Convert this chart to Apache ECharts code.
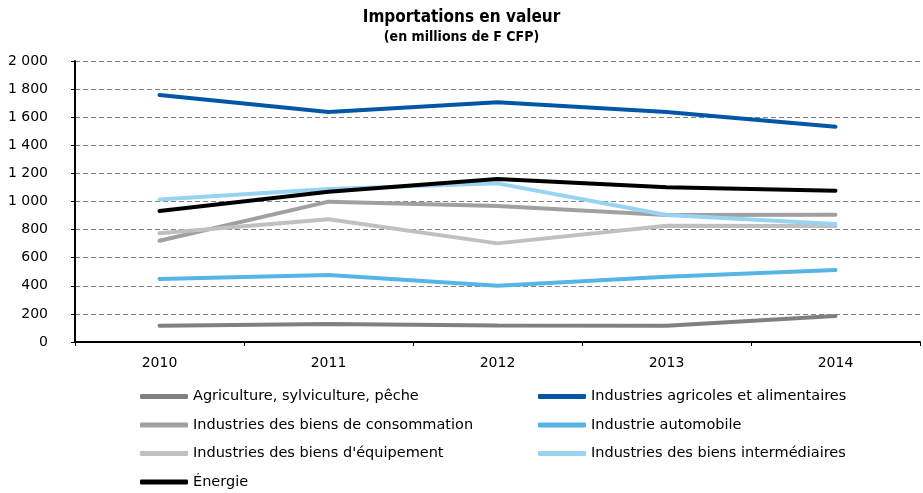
<!DOCTYPE html>
<html>
<head>
<meta charset="utf-8">
<script src="https://cdn.jsdelivr.net/npm/echarts@6/dist/echarts.min.js"></script>
<style>
html, body { margin: 0; padding: 0; background: #fff; }
#main { width: 923px; height: 493px; }
</style>
</head>
<body>
<div id="main"></div>
<script>
var years = ['2010', '2011', '2012', '2013', '2014'];
var names = [
    'Agriculture, sylviculture, pêche',
    'Industries agricoles et alimentaires',
    'Industries des biens de consommation',
    'Industrie automobile',
    "Industries des biens d'équipement",
    'Industries des biens intermédiaires',
    'Énergie'
];
var agriculture = [115, 128, 118, 116, 185];
var agroAlim = [1758, 1637, 1706, 1637, 1532];
var consommation = [721, 999, 968, 904, 906];
var automobile = [448, 477, 401, 465, 512];
var equipement = [774, 873, 702, 828, 826];
var intermediaires = [1015, 1089, 1129, 904, 840];
var energie = [932, 1070, 1160, 1101, 1077];
var colors = ['#808080', '#0057a6', '#a0a0a0', '#57b5e6', '#c0c0c0', '#99d3f2', '#000000'];
var values = [agriculture, agroAlim, consommation, automobile, equipement, intermediaires, energie];

var myChart = echarts.init(document.getElementById('main'));

var legendText = { fontFamily: 'DejaVu Sans', fontSize: 14.5, color: '#000', lineHeight: 14 };

function makeLegend(left, data) {
    return {
        orient: 'vertical',
        left: left,
        top: 389,
        padding: 0,
        itemWidth: 48,
        itemHeight: 5,
        itemGap: 13.5,
        icon: 'roundRect',
        textStyle: legendText,
        data: data
    };
}

var option = {
    animation: false,
    title: {
        text: 'Importations en valeur',
        subtext: '(en millions de F CFP)',
        left: 'center',
        top: 4,
        itemGap: 4,
        textStyle: { fontFamily: 'DejaVu Sans Condensed', fontWeight: 'bold', fontSize: 17, color: '#000' },
        subtextStyle: { fontFamily: 'DejaVu Sans Condensed', fontWeight: 'bold', fontSize: 14, color: '#000' }
    },
    legend: [
        makeLegend(140, [names[0], names[2], names[4], names[6]]),
        makeLegend(538, [names[1], names[3], names[5]])
    ],
    grid: { left: 75, right: 3, top: 61, bottom: 151 },
    xAxis: {
        type: 'category',
        data: years,
        boundaryGap: true,
        axisLine: { lineStyle: { color: '#000', width: 2 } },
        axisTick: { show: true, length: 4, lineStyle: { color: '#000', width: 1 } },
        axisLabel: { fontFamily: 'DejaVu Sans', fontSize: 14, color: '#000', margin: 14 }
    },
    yAxis: {
        type: 'value',
        min: 0,
        max: 2000,
        interval: 200,
        axisLine: { show: true, lineStyle: { color: '#000', width: 2 } },
        axisTick: { show: true, length: 4, lineStyle: { color: '#000', width: 1 } },
        splitLine: { lineStyle: { color: '#808080', type: [5, 3], width: 1 } },
        axisLabel: {
            fontFamily: 'DejaVu Sans', fontSize: 14, color: '#000', margin: 27,
            formatter: function (v) { return String(v).replace(/\B(?=(\d{3})+(?!\d))/g, ' '); }
        }
    },
    series: names.map(function (n, i) {
        return {
            name: n,
            type: 'line',
            data: values[i],
            showSymbol: false,
            symbol: 'none',
            color: colors[i],
            lineStyle: { width: 4, color: colors[i], cap: 'round' }
        };
    })
};

myChart.setOption(option);
</script>
</body>
</html>
